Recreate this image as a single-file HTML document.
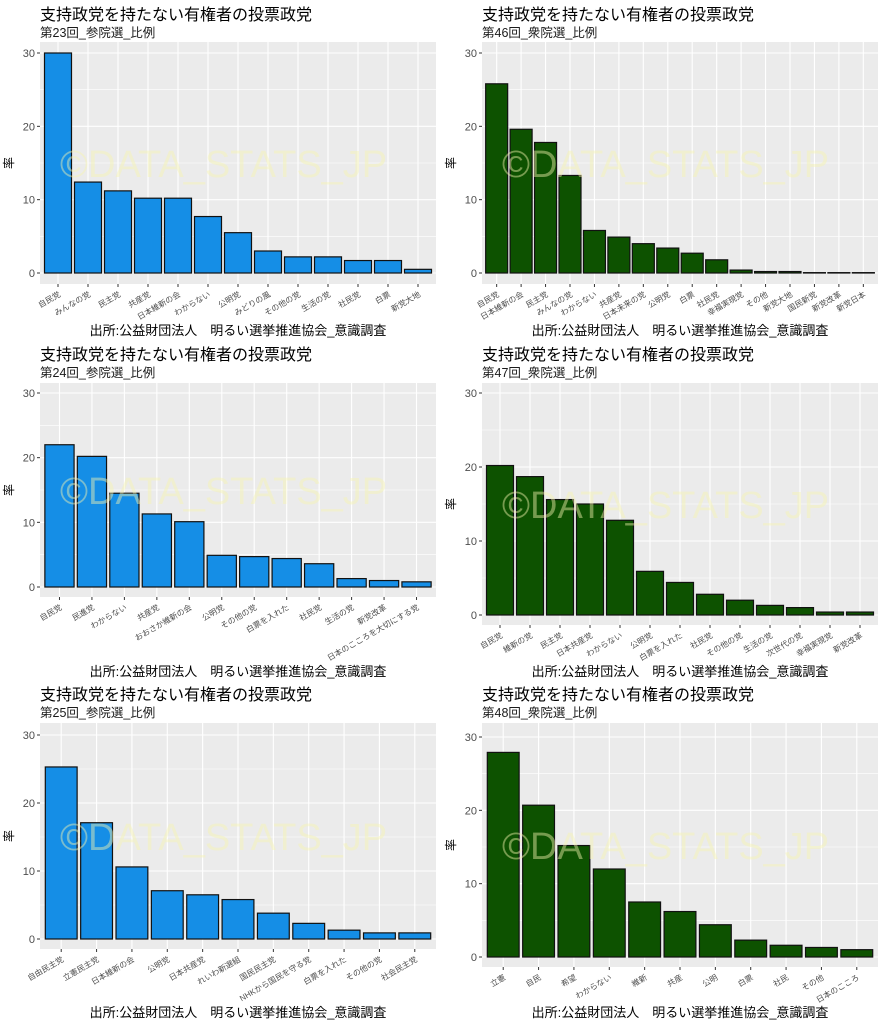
<!DOCTYPE html>
<html><head><meta charset="utf-8"><style>
body{margin:0;background:#fff;}
svg{display:block;font-family:"Liberation Sans","Noto Sans CJK JP",sans-serif;}
</style></head><body>
<svg id="s" width="884" height="1024" xmlns="http://www.w3.org/2000/svg"></svg>
<script>
const panels=[
{ox:0,sub:"第23回_参院選_比例",c:"#158ee6",top:42,bot:284,y0:273,sc:220/30,cap:335,
 d:[["自民党",30],["みんなの党",12.4],["民主党",11.2],["共産党",10.2],["日本維新の会",10.2],["わからない",7.7],["公明党",5.5],["みどりの風",3.0],["その他の党",2.2],["生活の党",2.2],["社民党",1.7],["白票",1.7],["新党大地",0.5]]},
{ox:442,sub:"第46回_衆院選_比例",c:"#0d5200",top:42,bot:284,y0:273,sc:220/30,cap:335,
 d:[["自民党",25.8],["日本維新の会",19.6],["民主党",17.8],["みんなの党",13.3],["わからない",5.8],["共産党",4.9],["日本未来の党",4.0],["公明党",3.4],["白票",2.7],["社民党",1.8],["幸福実現党",0.4],["その他",0.2],["新党大地",0.2],["国民新党",0.05],["新党改革",0.05],["新党日本",0.05]]},
{ox:0,sub:"第24回_参院選_比例",c:"#158ee6",top:383,bot:597,y0:587,sc:194/30,t:355,cap:676,
 d:[["自民党",22],["民進党",20.2],["わからない",14.5],["共産党",11.3],["おおさか維新の会",10.1],["公明党",4.9],["その他の党",4.7],["白票を入れた",4.4],["社民党",3.6],["生活の党",1.3],["新党改革",1.0],["日本のこころを大切にする党",0.8]]},
{ox:442,sub:"第47回_衆院選_比例",c:"#0d5200",top:383,bot:625,y0:615,sc:222/30,t:355,cap:676,
 d:[["自民党",20.2],["維新の党",18.7],["民主党",15.6],["日本共産党",15.0],["わからない",12.8],["公明党",5.9],["白票を入れた",4.4],["社民党",2.8],["その他の党",2.0],["生活の党",1.3],["次世代の党",1.0],["幸福実現党",0.4],["新党改革",0.4]]},
{ox:0,sub:"第25回_参院選_比例",c:"#158ee6",top:723,bot:949,y0:939,sc:204/30,t:695,cap:1017,
 d:[["自由民主党",25.3],["立憲民主党",17.1],["日本維新の会",10.6],["公明党",7.1],["日本共産党",6.5],["れいわ新選組",5.8],["国民民主党",3.8],["NHKから国民を守る党",2.3],["白票を入れた",1.3],["その他の党",0.9],["社会民主党",0.9]]},
{ox:442,sub:"第48回_衆院選_比例",c:"#0d5200",top:723,bot:967,y0:957,sc:220/30,t:695,cap:1017,
 d:[["立憲",27.9],["自民",20.7],["希望",15.2],["わからない",12.0],["維新",7.5],["共産",6.2],["公明",4.4],["白票",2.3],["社民",1.6],["その他",1.3],["日本のこころ",1.0]]}
];
let h="";
for(const p of panels){
 const t=p.t||15, x0=p.ox+40, x1=p.ox+436;
 h+=`<text x="${p.ox+40}" y="${t+5}" font-size="16" fill="#000">支持政党を持たない有権者の投票政党</text>`;
 h+=`<text x="${p.ox+40}" y="${t+22}" font-size="12.5" fill="#1a1a1a">${p.sub}</text>`;
 h+=`<rect x="${x0}" y="${p.top}" width="${x1-x0}" height="${p.bot-p.top}" fill="#ebebeb"/>`;
 for(let v=5;v<=35;v+=10){const y=p.y0-v*p.sc; if(y>p.top) h+=`<line x1="${x0}" x2="${x1}" y1="${y}" y2="${y}" stroke="#fff" stroke-width="0.6"/>`;}
 for(let v=0;v<=30;v+=10){const y=p.y0-v*p.sc;
  h+=`<line x1="${x0}" x2="${x1}" y1="${y}" y2="${y}" stroke="#fff" stroke-width="1.1"/>`;
  h+=`<line x1="${x0-3}" x2="${x0}" y1="${y}" y2="${y}" stroke="#333" stroke-width="1"/>`;
  h+=`<text x="${x0-5}" y="${y+4}" font-size="11" fill="#4d4d4d" text-anchor="end">${v}</text>`;}
 const n=p.d.length, step=(x1-x0)/(n+0.2), bw=step*0.9;
 p.d.forEach((d,i)=>{const cx=x0+step*(i+0.6);
  h+=`<line x1="${cx}" x2="${cx}" y1="${p.top}" y2="${p.bot}" stroke="#fff" stroke-width="1.1"/>`;});
 p.d.forEach((d,i)=>{const cx=x0+step*(i+0.6), y=p.y0-d[1]*p.sc;
  h+=`<rect x="${cx-bw/2}" y="${y}" width="${bw}" height="${p.y0-y}" fill="${p.c}" stroke="#111" stroke-width="1.2"/>`;
  h+=`<line x1="${cx}" x2="${cx}" y1="${p.bot}" y2="${p.bot+3}" stroke="#333"/>`;
  h+=`<text transform="translate(${cx+3},${p.bot+12}) rotate(-30)" font-size="8" fill="#4d4d4d" text-anchor="end">${d[0]}</text>`;});
 const cy=(p.top+p.bot)/2;
 h+=`<text x="${p.ox+60}" y="${cy+14}" font-size="38" fill="#f7f3b0" fill-opacity="0.45">©DATA_STATS_JP</text>`;
 h+=`<text transform="translate(${p.ox+13},${cy}) rotate(-90)" font-size="12" text-anchor="middle" fill="#000">率</text>`;
 h+=`<text x="${p.ox+238}" y="${p.cap}" font-size="13" text-anchor="middle" fill="#000">出所:公益財団法人　明るい選挙推進協会_意識調査</text>`;
}
document.getElementById("s").innerHTML=h;
</script>
</body></html>
